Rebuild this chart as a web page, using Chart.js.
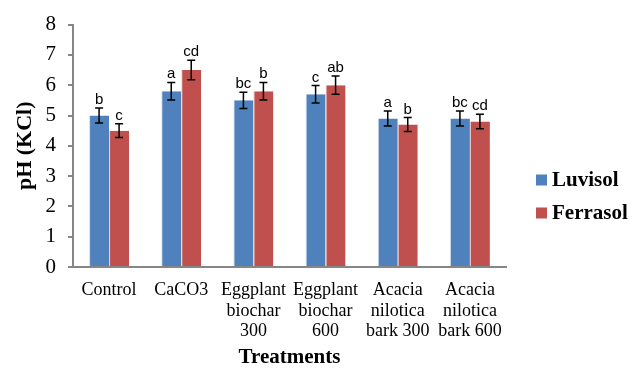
<!DOCTYPE html>
<html>
<head>
<meta charset="utf-8">
<script src="https://cdn.jsdelivr.net/npm/chart.js@4.4.1/dist/chart.umd.min.js"></script>
<style>
html,body{margin:0;padding:0;background:#fff;}
#wrap{width:632px;height:368px;position:relative;}
</style>
</head>
<body>
<div id="wrap"><canvas id="c" width="632" height="368"></canvas></div>
<script>
const categories = [["Control"], ["CaCO3"], ["Eggplant","biochar","300"], ["Eggplant","biochar","600"], ["Acacia","nilotica","bark 300"], ["Acacia","nilotica","bark 600"]];
const seriesNames = ["Luvisol", "Ferrasol"];
const luvisol = [5.0, 5.8, 5.5, 5.7, 4.9, 4.9];
const ferrasol = [4.5, 6.5, 5.8, 6.0, 4.7, 4.8];
const luvisolErr = [0.25, 0.29, 0.27, 0.29, 0.25, 0.25];
const ferrasolErr = [0.23, 0.32, 0.29, 0.3, 0.23, 0.24];
const luvisolLetters = ["b", "a", "bc", "c", "a", "bc"];
const ferrasolLetters = ["c", "cd", "b", "ab", "b", "cd"];
const yTicks = [0, 1, 2, 3, 4, 5, 6, 7, 8];

const colors = ["#4F81BD", "#C0504D"];
const errs = [luvisolErr, ferrasolErr];
const letters = [luvisolLetters, ferrasolLetters];

const errorPlugin = {
  id: 'errs',
  afterDatasetsDraw(chart) {
    const ctx = chart.ctx;
    const y = chart.scales.y;
    chart.data.datasets.forEach((ds, di) => {
      const meta = chart.getDatasetMeta(di);
      meta.data.forEach((bar, i) => {
        const v = ds.data[i], e = errs[di][i];
        const yt = y.getPixelForValue(v + e), yb = y.getPixelForValue(v - e);
        const x = bar.x;
        ctx.save();
        ctx.strokeStyle = '#000';
        ctx.lineWidth = 1.5;
        ctx.beginPath();
        ctx.moveTo(x, yt); ctx.lineTo(x, yb);
        ctx.moveTo(x - 4, yt); ctx.lineTo(x + 4, yt);
        ctx.moveTo(x - 4, yb); ctx.lineTo(x + 4, yb);
        ctx.stroke();
        ctx.fillStyle = '#000';
        ctx.font = '15px "Liberation Sans", Arial, sans-serif';
        ctx.textAlign = 'center';
        ctx.textBaseline = 'alphabetic';
        ctx.fillText(letters[di][i], x, yt - 4);
        ctx.restore();
      });
    });
  }
};

const legendPlugin = {
  id: 'customLegend',
  afterDraw(chart) {
    const ctx = chart.ctx;
    const ys = [180, 213];
    ctx.save();
    chart.data.datasets.forEach((ds, di) => {
      ctx.fillStyle = ds.backgroundColor;
      ctx.fillRect(536, ys[di] - 5.5, 11, 11);
      ctx.fillStyle = '#000';
      ctx.font = 'bold 21px "Liberation Serif", "Times New Roman", serif';
      ctx.textAlign = 'left';
      ctx.textBaseline = 'middle';
      ctx.fillText(ds.label, 552, ys[di] + 1);
    });
    ctx.restore();
  }
};

new Chart(document.getElementById('c'), {
  type: 'bar',
  data: {
    labels: categories,
    datasets: [
      { label: seriesNames[0], data: luvisol, backgroundColor: colors[0], borderColor: 'rgba(200,215,235,0.9)', borderWidth: {left:1, right:0, top:0, bottom:0} },
      { label: seriesNames[1], data: ferrasol, backgroundColor: colors[1], borderColor: 'rgba(230,190,190,0.9)', borderWidth: {left:1, right:0, top:0, bottom:0} }
    ]
  },
  options: {
    responsive: false,
    animation: false,
    devicePixelRatio: 1,
    layout: { padding: { top: 21, right: 126, bottom: 0, left: 0 } },
    plugins: { legend: { display: false }, tooltip: { enabled: false } },
    datasets: { bar: { categoryPercentage: 0.554, barPercentage: 1.0 } },
    scales: {
      x: {
        afterFit(s) { s.height = 101; },
        grid: { display: false, drawTicks: false },
        border: { color: '#868686', width: 2 },
        ticks: {
          color: '#000', padding: 13, maxRotation: 0, autoSkip: false,
          font: { family: '"Liberation Serif", "Times New Roman", serif', size: 18, lineHeight: 1.14 }
        },
        title: {
          display: true, text: 'Treatments', color: '#000', padding: { top: 0, bottom: 0 },
          font: { family: '"Liberation Serif", "Times New Roman", serif', size: 21, weight: 'bold', lineHeight: 1.0 }
        }
      },
      y: {
        min: 0, max: 8,
        afterFit(s) { s.width = 73; },
        afterBuildTicks(s) { s.ticks = yTicks.map(v => ({ value: v })); },
        grid: { display: true, drawOnChartArea: false, drawTicks: true, tickLength: 5, color: '#868686', lineWidth: 2 },
        border: { color: '#868686', width: 2 },
        ticks: {
          color: '#000', padding: 12,
          font: { family: '"Liberation Serif", "Times New Roman", serif', size: 21 }
        },
        title: {
          display: true, text: 'pH (KCl)', color: '#000', padding: { top: 12, bottom: 0 },
          font: { family: '"Liberation Serif", "Times New Roman", serif', size: 22, weight: 'bold' }
        }
      }
    }
  },
  plugins: [errorPlugin, legendPlugin]
});
</script>
</body>
</html>
